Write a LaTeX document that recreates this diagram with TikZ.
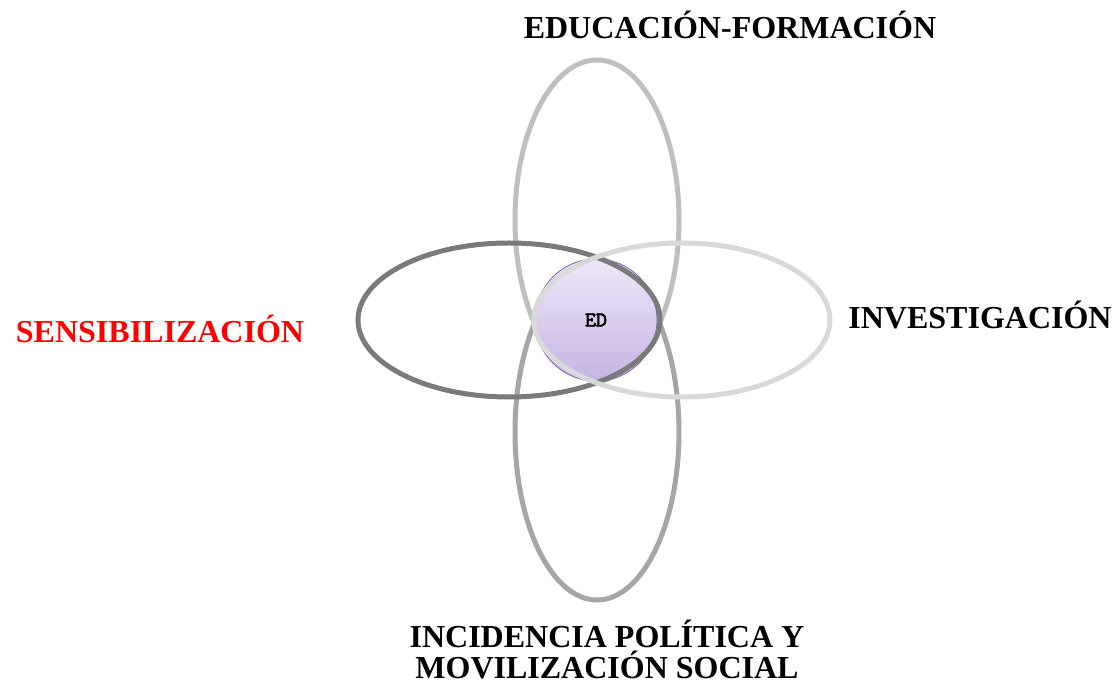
\documentclass[tikz,border=0pt]{standalone}
\usepackage{fontspec}
\setmainfont{Liberation Serif}
\newfontfamily\edfont{Latin Modern Mono}[FakeBold=2.5]
\usepackage{tikz}

\definecolor{edtop}{HTML}{EEE7F8}
\definecolor{edbottom}{HTML}{C6B4E4}
\definecolor{edline}{HTML}{7C5FAE}

\begin{document}
\begin{tikzpicture}[x=0.5pt, y=-0.5pt,
    petal/.style={line width=2.5pt},
    area/.style={font=\fontsize{16}{15.5}\selectfont\bfseries, anchor=base, align=center}]

  \useasboundingbox (0,0) rectangle (1115,683);

  % Education and advocacy petals (behind the centre)
  \draw[petal, color=black!25] (597,220) ellipse [x radius=82, y radius=160];
  \draw[petal, color=black!35] (597,432) ellipse [x radius=82, y radius=168];

  % Centre ED
  \node[circle, draw=edline, thin, minimum size=61pt, inner sep=0pt,
        top color=edtop, bottom color=edbottom] (ed) at (596,320)
        {\edfont\fontsize{10.5}{12}\selectfont ED};

  % Awareness and research petals
  \draw[petal, color=black!52] (509,320) ellipse [x radius=151, y radius=77];
  \draw[petal, color=black!15] (682,320) ellipse [x radius=148, y radius=77];

  % Labels
  \node[area] (edu) at (730,39) {EDUCACIÓN-FORMACIÓN};
  \node[area, text=red] (sens) at (160,343) {SENSIBILIZACIÓN};
  \node[area] (inv) at (980,329) {INVESTIGACIÓN};
  \node[area, anchor=south] (inc) at (607,686) {INCIDENCIA POLÍTICA Y\\MOVILIZACIÓN SOCIAL};

\end{tikzpicture}
\end{document}
